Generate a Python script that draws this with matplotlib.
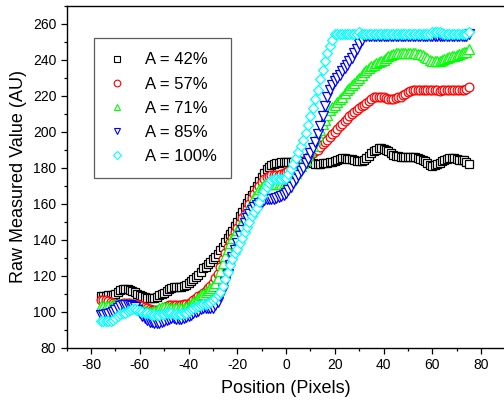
import numpy as np
import matplotlib
matplotlib.use('Agg')
import matplotlib.pyplot as plt
from matplotlib.lines import Line2D
from matplotlib.ticker import MultipleLocator

plt.rcParams['font.family'] = ['Liberation Sans', 'DejaVu Sans']
plt.rcParams['axes.unicode_minus'] = False

# pixel positions
position = np.arange(-76, 76)

a42 = [108.5, 108.5, 108.5, 109, 109, 109.5, 110, 111, 112, 112.5,
       112.5, 112.5, 112, 111.5, 111, 110, 109, 108.5, 108, 107.5,
       107.5, 107.5, 107.5, 108, 109, 110, 110.5, 111.5, 112.5, 113,
       113.5, 113.5, 113.5, 113.5, 114, 115, 116, 117, 118, 119,
       120.5, 122, 124, 125, 126.5, 127.5, 129, 130.5, 132, 134,
       136, 138.5, 141, 143, 145, 147.5, 150, 153, 155.5, 158,
       160.5, 163, 165, 167.5, 170, 172.5, 175, 177, 179, 180.5,
       181.5, 182, 182.5, 182.5, 183, 183, 183, 183, 183, 183,
       183.5, 183.5, 183.5, 183.5, 183, 183, 183, 182.5, 182, 182,
       182, 182.5, 182.5, 182.5, 183, 183, 183.5, 184.5, 185, 185.5,
       185.5, 185, 185, 185, 184.5, 183.5, 183.5, 183.5, 184.5, 185.5,
       186.5, 188, 189, 190, 191, 191, 190.5, 190, 189, 188,
       187, 186.5, 186.5, 186, 186, 186, 186, 186, 186, 186,
       185.5, 185, 184.5, 183.5, 182.5, 181.5, 181, 181.5, 182, 182.5,
       183.5, 184.5, 185, 185.5, 185.5, 185.5, 185, 184.5, 184, 184,
       183, 182]

a57 = [106.5, 106.5, 106.5, 106, 105.5, 105, 104.5, 104.5, 104.5, 105,
       105, 105, 105, 104.5, 104.5, 104, 103.5, 103, 102.5, 102,
       101.5, 101, 101, 101, 101, 101.5, 102, 103, 103.5, 103.5,
       103.5, 103.5, 103.5, 103.5, 104, 104, 104.5, 105.5, 106.5, 107.5,
       108.5, 109.5, 110.5, 111.5, 113, 114.5, 116, 118.5, 121, 125,
       129, 132.5, 136, 138.5, 141, 144, 146.5, 149.5, 152, 154.5,
       157, 160, 163, 165.5, 168, 170, 172, 173.5, 175, 175.5,
       176, 176, 176, 176, 176.5, 177, 177.5, 178, 179, 180,
       180.5, 181, 182, 183, 184.5, 186, 187, 188, 189, 190,
       191.5, 193, 194, 195.5, 197, 198.5, 200, 201.5, 203, 204.5,
       206, 207, 208.5, 210, 211, 212, 213, 214, 215, 216,
       217, 218, 219, 219.5, 219.5, 219.5, 219, 218.5, 218, 218,
       218, 218.5, 219, 219.5, 220.5, 221, 222, 222.5, 223, 223,
       223, 223, 223, 223, 223, 223, 223, 223, 223, 222.5,
       223, 223, 223, 223, 223, 223, 223, 223, 223, 223,
       223.5, 225]

a71 = [103, 103, 103, 103, 103, 103.5, 104, 104, 104.5, 104.5,
       104.5, 104.5, 104.5, 104, 103.5, 103, 102, 101, 100.5, 100,
       100, 100, 100.5, 101, 102, 102.5, 102.5, 102.5, 102, 102,
       102, 102, 102, 102, 102, 102.5, 103, 104, 105.5, 106.5,
       107.5, 109, 110, 111, 112, 113, 114, 116, 118.5, 122.5,
       127, 131, 135, 138, 141, 143, 145.5, 148, 150, 152.5,
       155, 158, 161, 163.5, 166, 168, 169.5, 170.5, 171, 171,
       171, 171, 171, 171, 171, 171, 171, 172, 173, 175,
       177, 179, 181, 182.5, 184.5, 187, 189, 192, 195.5, 198,
       201, 204, 206.5, 209.5, 212, 213.5, 215, 216.5, 218, 219.5,
       221.5, 223, 224.5, 226, 227, 228.5, 230, 231.5, 233, 234,
       235.5, 236.5, 237, 238, 238.5, 239, 240, 241, 242, 242.5,
       243, 243.5, 243.5, 243.5, 243.5, 243.5, 243.5, 243.5, 243.5, 243.5,
       243, 243, 242.5, 241.5, 241, 240, 239, 239, 239, 239.5,
       240, 240.5, 241, 241.5, 242, 242, 242.5, 243, 243.5, 244,
       244.5, 246]

a85 = [98, 98, 98.5, 98.5, 99, 100, 101, 102, 103, 103.5,
       103.5, 103.5, 103.5, 103, 102.5, 101, 99, 97.5, 96.5, 95.5,
       94.5, 94, 93.5, 93.5, 93.5, 94, 95, 95.5, 96, 96.5,
       96.5, 96, 96, 96, 96.5, 97, 97.5, 98, 99, 100,
       100.5, 101.5, 102, 102, 102, 102, 102, 103.5, 105.5, 108.5,
       112, 116.5, 121, 126, 130.5, 134.5, 138, 142, 145.5, 149,
       152, 154.5, 156.5, 158, 159.5, 160.5, 161, 162, 162.5, 162.5,
       162.5, 162.5, 163, 163.5, 164, 165, 166, 167.5, 169.5, 171.5,
       173.5, 176, 178, 180, 182.5, 185, 188, 191, 194.5, 198.5,
       203, 208.5, 214, 219, 223, 226, 228, 230, 231.5, 233.5,
       235.5, 237, 239, 241, 243.5, 246, 248.5, 251, 253, 253,
       253, 253, 253, 253, 253, 253, 253, 253, 253, 253,
       253, 253, 253, 253, 253, 253, 253, 253, 253, 253,
       253, 253, 253, 253, 253, 253, 253, 253, 253, 253,
       253, 253, 253, 253, 253, 253, 253, 253, 253, 253,
       253, 254]

a100 = [95, 95, 95, 95, 95, 95.5, 96.5, 97.5, 98.5, 99,
        99.5, 100.5, 101, 101.5, 101.5, 101, 100.5, 100, 99.5, 99,
        98.5, 98, 98, 98, 98, 98.5, 98.5, 99, 99, 99,
        98.5, 98.5, 98.5, 98.5, 99, 99.5, 100.5, 101.5, 102, 102.5,
        103, 103.5, 104, 104.5, 105, 105.5, 106.5, 107.5, 109, 111,
        114, 118, 122, 126, 129.5, 132.5, 135, 138, 141, 144,
        147, 150, 153, 155.5, 157.5, 161, 164, 167, 169.5, 171.5,
        173, 173.5, 173.5, 173.5, 173.5, 174, 174.5, 176.5, 179, 182,
        185.5, 188.5, 192, 195.5, 199, 203.5, 208.5, 213, 218, 223,
        229, 234, 239, 243.5, 247.5, 251, 254, 254.5, 254.5, 254.5,
        254.5, 254.5, 254.5, 254.5, 254.5, 254.5, 255.5, 254.5, 254.5, 254.5,
        254.5, 254.5, 254.5, 254.5, 254.5, 254.5, 254.5, 254.5, 254.5, 254.5,
        254.5, 254.5, 254.5, 254.5, 254.5, 254.5, 254.5, 254.5, 254.5, 254.5,
        254.5, 254.5, 254.5, 254.5, 254.5, 254.5, 255.5, 255.5, 255.5, 255.5,
        255, 254.5, 254.5, 254.5, 254.5, 254.5, 254.5, 254.5, 254.5, 254.5,
        254.5, 255.5]

labels = ['A = 42%', 'A = 57%', 'A = 71%', 'A = 85%', 'A = 100%']
series = [a42, a57, a71, a85, a100]
colors = ['#000000', '#ff0000', '#00ff00', '#0000ff', '#00ffff']
markers = ['s', 'o', '^', 'v', 'D']
msizes = [6, 6.3, 6.5, 6.5, 5.2]

fig = plt.figure(figsize=(5.04, 4.04), dpi=100)
ax = fig.add_axes([0.1323, 0.1394, 0.8705, 0.8465])

handles = []
for i, (y, c, m, ms, lab) in enumerate(zip(series, colors, markers, msizes, labels)):
    ax.plot(position, y, color=c, lw=0.7, marker=m, ms=ms, mfc='white',
            mec=c, mew=0.9, zorder=2 + i)
    handles.append(Line2D([], [], ls='none', marker=m, ms=ms - 1.5, mfc='white',
                          mec=c, mew=0.8, label=lab))

ax.set_xlim(-90, 90)
ax.set_ylim(80, 270)
ax.xaxis.set_major_locator(MultipleLocator(20))
ax.xaxis.set_minor_locator(MultipleLocator(10))
ax.yaxis.set_major_locator(MultipleLocator(20))
ax.yaxis.set_minor_locator(MultipleLocator(10))
ax.tick_params(which='major', direction='out', length=4, width=0.9, labelsize=10,
               top=False, right=False)
ax.tick_params(which='minor', direction='out', length=2.4, width=0.9,
               top=False, right=False)
ax.spines['right'].set_visible(False)
for s in ['left', 'bottom', 'top']:
    ax.spines[s].set_linewidth(1.0)

ax.set_xlabel('Position (Pixels)', fontsize=13, labelpad=6)
ax.set_ylabel('Raw Measured Value (AU)', fontsize=13, labelpad=4)

leg = ax.legend(handles=handles, loc='upper left', bbox_to_anchor=(0.063, 0.905),
                fontsize=12, frameon=True, fancybox=False, handlelength=1.0,
                handletextpad=1.2, labelspacing=0.55, borderpad=0.85,
                borderaxespad=0)
leg.get_frame().set_edgecolor('#333333')
leg.get_frame().set_linewidth(0.9)

plt.savefig('out.png', dpi=100)
